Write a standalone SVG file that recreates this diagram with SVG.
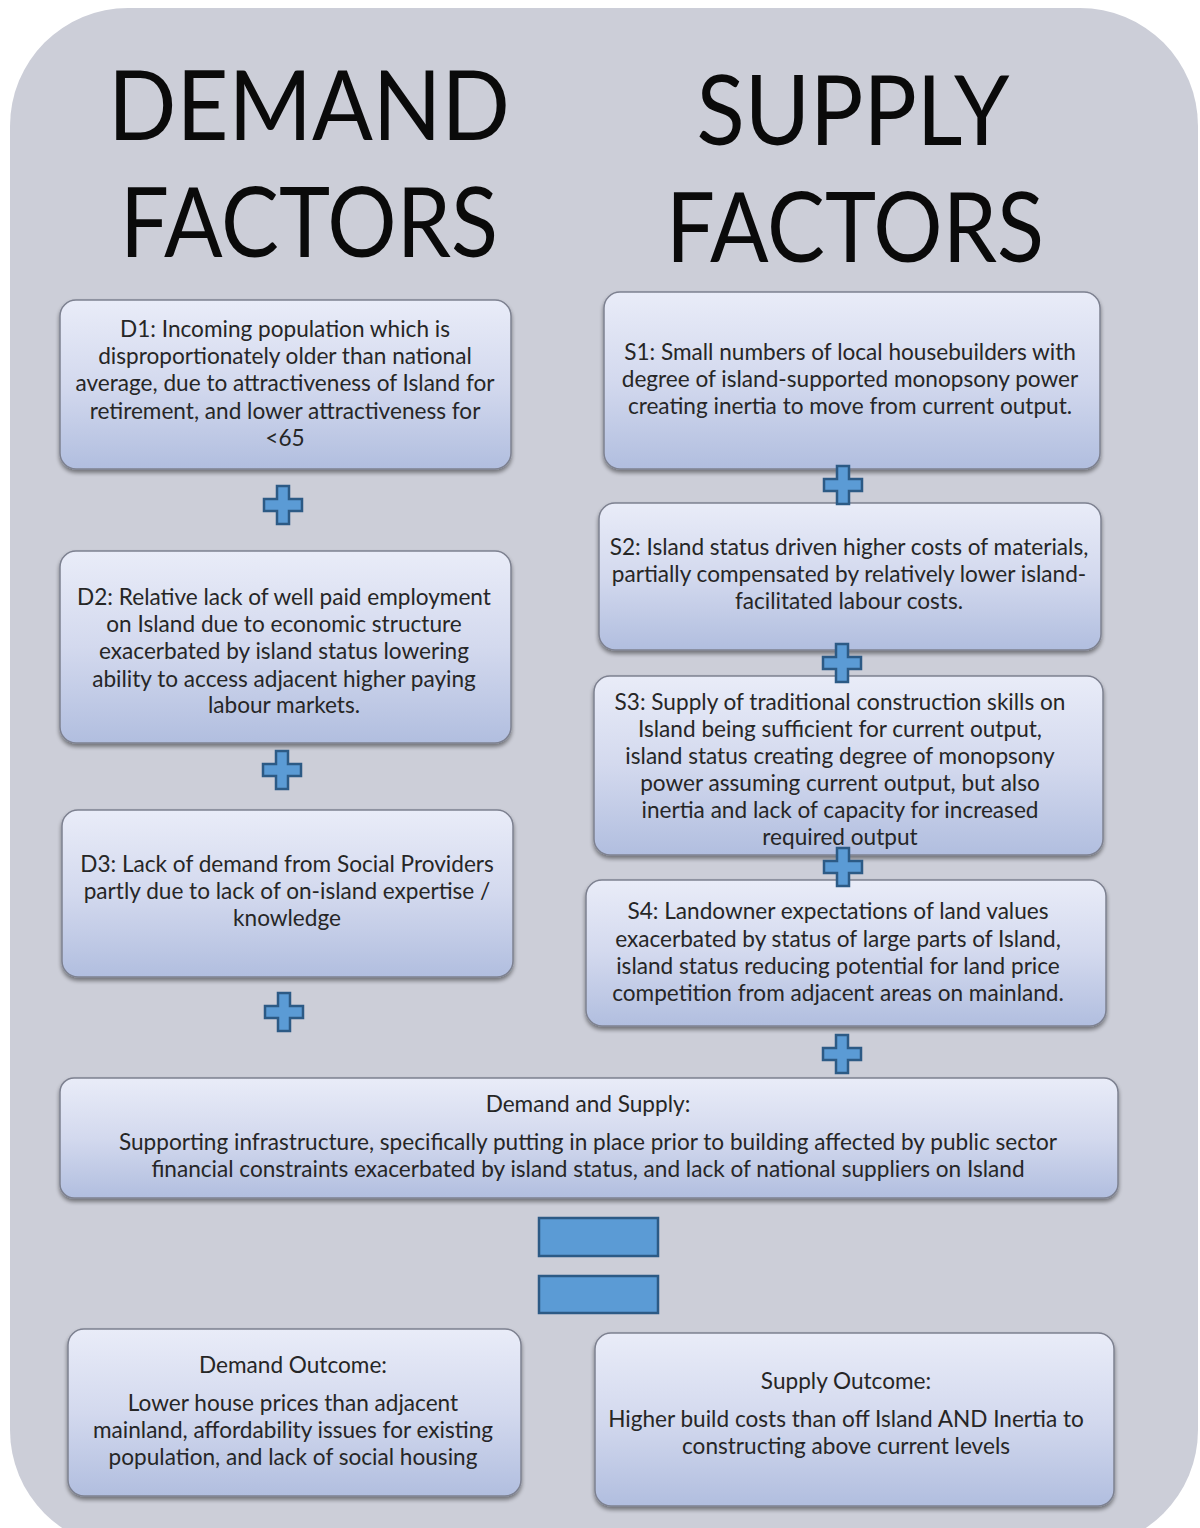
<svg xmlns="http://www.w3.org/2000/svg" width="1200" height="1528" viewBox="0 0 1200 1528">
  <style>
    .box { fill: url(#boxGrad); stroke: #7d8190; stroke-width: 1.5; filter: url(#shadow); }
    .t { font-family: Lato, "Open Sans", "Liberation Sans", sans-serif; font-size: 22.6px; fill: #262626; text-anchor: middle; }
    .head { font-family: Lato, "Open Sans", "Liberation Sans", sans-serif; font-size: 96px; fill: #0a0a0a; text-anchor: middle; }
    .op { fill: #5b9bd5; stroke: #2c5a85; stroke-width: 2.5; }
  </style>
  <defs>
    <linearGradient id="boxGrad" x1="0" y1="0" x2="0" y2="1">
      <stop offset="0" stop-color="#e9ecf8"/>
      <stop offset="0.5" stop-color="#d3d9ee"/>
      <stop offset="1" stop-color="#b1bedf"/>
    </linearGradient>
    <filter id="shadow" x="-5%" y="-10%" width="110%" height="125%">
      <feGaussianBlur in="SourceAlpha" stdDeviation="2"/>
      <feOffset dx="0" dy="3" result="b"/>
      <feComponentTransfer><feFuncA type="linear" slope="0.45"/></feComponentTransfer>
      <feMerge><feMergeNode/><feMergeNode in="SourceGraphic"/></feMerge>
    </filter>
    <path id="plus" d="M-6,-19 H6 V-6 H19 V6 H6 V19 H-6 V6 H-19 V-6 H-6 Z"/>
  </defs>

  <rect width="1200" height="1528" fill="#ffffff"/>
  <!-- panel -->
  <rect x="10" y="8" width="1188" height="1540" rx="118" fill="#ccced8"/>

  <!-- headings -->
  <g id="heading-demand">
    <text class="head" x="309" y="140" textLength="402" lengthAdjust="spacingAndGlyphs">DEMAND</text>
    <text class="head" x="309" y="257" textLength="378" lengthAdjust="spacingAndGlyphs">FACTORS</text>
  </g>
  <g id="heading-supply">
    <text class="head" x="853" y="145" textLength="313" lengthAdjust="spacingAndGlyphs">SUPPLY</text>
    <text class="head" x="855" y="262" textLength="378" lengthAdjust="spacingAndGlyphs">FACTORS</text>
  </g>

  <!-- demand column -->
  <g id="D1">
    <rect class="box" x="60" y="300" width="451" height="169" rx="16"/>
    <text class="t" x="285" y="337">D1: Incoming population which is</text>
    <text class="t" x="285" y="364">disproportionately older than national</text>
    <text class="t" x="285" y="391">average, due to attractiveness of Island for</text>
    <text class="t" x="285" y="419">retirement, and lower attractiveness for</text>
    <text class="t" x="285" y="446">&lt;65</text>
  </g>
  <g id="D2">
    <rect class="box" x="60" y="551" width="451" height="192" rx="16"/>
    <text class="t" x="284" y="605">D2: Relative lack of well paid employment</text>
    <text class="t" x="284" y="632">on Island due to economic structure</text>
    <text class="t" x="284" y="659">exacerbated by island status lowering</text>
    <text class="t" x="284" y="687">ability to access adjacent higher paying</text>
    <text class="t" x="284" y="713">labour markets.</text>
  </g>
  <g id="D3">
    <rect class="box" x="62" y="810" width="451" height="167" rx="16"/>
    <text class="t" x="287" y="872">D3: Lack of demand from Social Providers</text>
    <text class="t" x="287" y="899">partly due to lack of on-island expertise /</text>
    <text class="t" x="287" y="926">knowledge</text>
  </g>

  <!-- supply column -->
  <g id="S1">
    <rect class="box" x="604" y="292" width="496" height="177" rx="16"/>
    <text class="t" x="850" y="360">S1: Small numbers of local housebuilders with</text>
    <text class="t" x="850" y="387">degree of  island-supported monopsony power</text>
    <text class="t" x="850" y="414">creating inertia to move from current output.</text>
  </g>
  <g id="S2">
    <rect class="box" x="599" y="503" width="502" height="147" rx="16"/>
    <text class="t" x="849" y="555">S2: Island status driven higher costs of materials,</text>
    <text class="t" x="849" y="582">partially compensated by relatively lower island-</text>
    <text class="t" x="849" y="609">facilitated labour costs.</text>
  </g>
  <g id="S3">
    <rect class="box" x="594" y="676" width="509" height="179" rx="16"/>
    <text class="t" x="840" y="710">S3: Supply of  traditional construction skills on</text>
    <text class="t" x="840" y="737">Island being sufficient for current output,</text>
    <text class="t" x="840" y="764">island status creating degree of monopsony</text>
    <text class="t" x="840" y="791">power assuming current output, but also</text>
    <text class="t" x="840" y="818">inertia and lack of capacity for increased</text>
    <text class="t" x="840" y="845">required output</text>
  </g>
  <g id="S4">
    <rect class="box" x="586" y="880" width="520" height="146" rx="16"/>
    <text class="t" x="838" y="919">S4: Landowner expectations of land values</text>
    <text class="t" x="838" y="947">exacerbated by status of large parts of Island,</text>
    <text class="t" x="838" y="974">island status reducing potential for land price</text>
    <text class="t" x="838" y="1001">competition from adjacent areas on mainland.</text>
  </g>

  <!-- combined factor -->
  <g id="DS">
    <rect class="box" x="60" y="1078" width="1058" height="120" rx="14"/>
    <text class="t" x="588" y="1112">Demand and Supply:</text>
    <text class="t" x="588" y="1150">Supporting infrastructure, specifically putting in place prior to building affected by public sector</text>
    <text class="t" x="588" y="1177">financial  constraints exacerbated by island status, and lack of national suppliers on Island</text>
  </g>

  <!-- operators between factors -->
  <g id="connectors">
    <use href="#plus" class="op" x="283" y="505"/>
    <use href="#plus" class="op" x="282" y="770"/>
    <use href="#plus" class="op" x="284" y="1012"/>
    <use href="#plus" class="op" x="843" y="485"/>
    <use href="#plus" class="op" x="842" y="663"/>
    <use href="#plus" class="op" x="843" y="867"/>
    <use href="#plus" class="op" x="842" y="1054"/>
    <rect class="op" x="539" y="1218" width="119" height="38"/>
    <rect class="op" x="539" y="1276" width="119" height="37"/>
  </g>

  <!-- outcomes -->
  <g id="demand-outcome">
    <rect class="box" x="68" y="1329" width="453" height="167" rx="16"/>
    <text class="t" x="293" y="1373">Demand Outcome:</text>
    <text class="t" x="293" y="1411">Lower house prices than adjacent</text>
    <text class="t" x="293" y="1438">mainland, affordability issues for existing</text>
    <text class="t" x="293" y="1465">population, and  lack of social housing</text>
  </g>
  <g id="supply-outcome">
    <rect class="box" x="595" y="1333" width="519" height="173" rx="16"/>
    <text class="t" x="846" y="1389">Supply Outcome:</text>
    <text class="t" x="846" y="1427">Higher build costs than off Island AND Inertia to</text>
    <text class="t" x="846" y="1454">constructing above current levels</text>
  </g>
</svg>
